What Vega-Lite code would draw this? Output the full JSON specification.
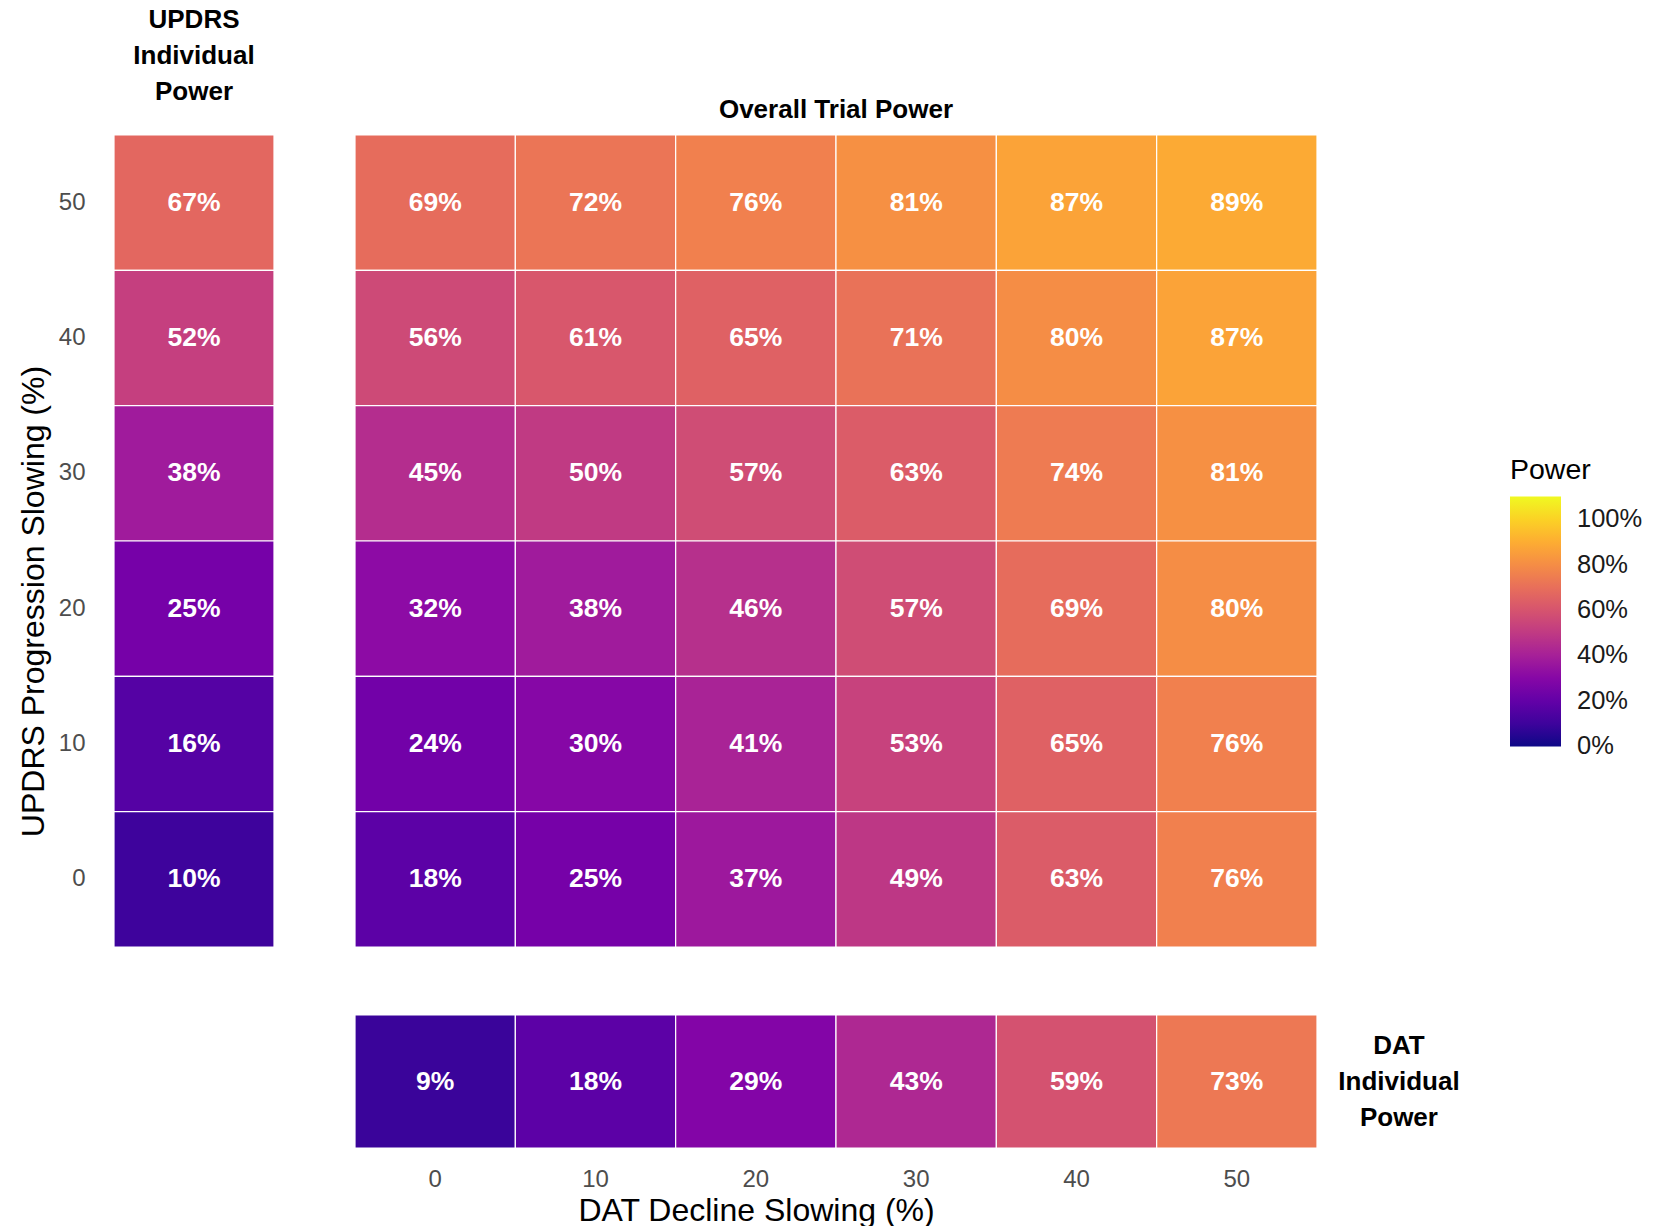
{
  "$schema": "https://vega.github.io/schema/vega-lite/v6.json",
  "background": "white",
  "autosize": {"type": "pad"},
  "padding": {"left": 17, "top": 7, "right": 0, "bottom": 0},
  "config": {
    "font": "Liberation Sans",
    "view": {"stroke": null},
    "axis": {"domain": false, "ticks": false, "grid": false},
    "title": {"font": "Liberation Sans", "fontSize": 26, "fontWeight": "bold", "color": "#000000"},
    "legend": {
      "orient": "none", "legendX": 1396, "legendY": 321, "padding": 0,
      "direction": "vertical", "gradientLength": 250, "gradientThickness": 51, "gradientStrokeWidth": 0,
      "labelFontSize": 25.5, "labelColor": "#1a1a1a", "labelOffset": 16, "gradientLabelOffset": 16, "labelFont": "Liberation Sans", "labelBaseline": "middle",
      "titleFontSize": 28.5, "titleFontWeight": "normal", "titleColor": "#000000", "titlePadding": 12, "titleFont": "Liberation Sans"
    }
  },
  "datasets": {
    "overall": [
      {"updrs": 50, "dat": 0, "power": 0.69}, {"updrs": 50, "dat": 10, "power": 0.72}, {"updrs": 50, "dat": 20, "power": 0.76},
      {"updrs": 50, "dat": 30, "power": 0.81}, {"updrs": 50, "dat": 40, "power": 0.87}, {"updrs": 50, "dat": 50, "power": 0.89},
      {"updrs": 40, "dat": 0, "power": 0.56}, {"updrs": 40, "dat": 10, "power": 0.61}, {"updrs": 40, "dat": 20, "power": 0.65},
      {"updrs": 40, "dat": 30, "power": 0.71}, {"updrs": 40, "dat": 40, "power": 0.80}, {"updrs": 40, "dat": 50, "power": 0.87},
      {"updrs": 30, "dat": 0, "power": 0.45}, {"updrs": 30, "dat": 10, "power": 0.50}, {"updrs": 30, "dat": 20, "power": 0.57},
      {"updrs": 30, "dat": 30, "power": 0.63}, {"updrs": 30, "dat": 40, "power": 0.74}, {"updrs": 30, "dat": 50, "power": 0.81},
      {"updrs": 20, "dat": 0, "power": 0.32}, {"updrs": 20, "dat": 10, "power": 0.38}, {"updrs": 20, "dat": 20, "power": 0.46},
      {"updrs": 20, "dat": 30, "power": 0.57}, {"updrs": 20, "dat": 40, "power": 0.69}, {"updrs": 20, "dat": 50, "power": 0.80},
      {"updrs": 10, "dat": 0, "power": 0.24}, {"updrs": 10, "dat": 10, "power": 0.30}, {"updrs": 10, "dat": 20, "power": 0.41},
      {"updrs": 10, "dat": 30, "power": 0.53}, {"updrs": 10, "dat": 40, "power": 0.65}, {"updrs": 10, "dat": 50, "power": 0.76},
      {"updrs": 0, "dat": 0, "power": 0.18}, {"updrs": 0, "dat": 10, "power": 0.25}, {"updrs": 0, "dat": 20, "power": 0.37},
      {"updrs": 0, "dat": 30, "power": 0.49}, {"updrs": 0, "dat": 40, "power": 0.63}, {"updrs": 0, "dat": 50, "power": 0.76}
    ],
    "updrsInd": [
      {"updrs": 50, "power": 0.67}, {"updrs": 40, "power": 0.52}, {"updrs": 30, "power": 0.38},
      {"updrs": 20, "power": 0.25}, {"updrs": 10, "power": 0.16}, {"updrs": 0, "power": 0.10}
    ],
    "datInd": [
      {"dat": 0, "power": 0.09}, {"dat": 10, "power": 0.18}, {"dat": 20, "power": 0.29},
      {"dat": 30, "power": 0.43}, {"dat": 40, "power": 0.59}, {"dat": 50, "power": 0.73}
    ]
  },
  "bounds": "flush",
  "spacing": 81,
  "hconcat": [
    {
      "data": {"name": "updrsInd"},
      "width": 160,
      "height": 812,
      "title": {"text": ["UPDRS", "Individual", "Power"], "anchor": "middle", "lineHeight": 36, "offset": 29},
      "encoding": {
        "y": {
          "field": "updrs", "type": "ordinal", "sort": "descending",
          "scale": {"paddingInner": 0, "paddingOuter": 0},
          "axis": {
            "orient": "left", "labelFontSize": 24, "labelColor": "#4d4d4d", "labelPadding": 29, "labelAngle": 0,
            "title": "UPDRS Progression Slowing (%)", "titleFontSize": 32, "titleFontWeight": "normal", "titleColor": "#000000",
            "titleX": -71, "titleY": 466, "titleBaseline": "alphabetic", "titleAngle": -90, "titleAlign": "center"
          }
        }
      },
      "layer": [
        {
          "mark": {"type": "rect", "stroke": "white", "strokeWidth": 1.2},
          "encoding": {
            "color": {"field": "power", "type": "quantitative", "title": "Power", "scale": {"scheme": "plasma", "domain": [-0.001, 1.1]},
              "legend": {"values": [0, 0.2, 0.4, 0.6, 0.8, 1.0], "format": ".0%", "labelOffset": 16}}
          }
        },
        {
          "mark": {"type": "text", "color": "white", "fontSize": 26.5, "fontWeight": "bold", "font": "Liberation Sans"},
          "encoding": {"text": {"field": "power", "type": "quantitative", "format": ".0%"}}
        }
      ]
    },
    {
      "bounds": "flush",
      "spacing": 68,
      "vconcat": [
        {
          "data": {"name": "overall"},
          "width": 962,
          "height": 812,
          "title": {"text": "Overall Trial Power", "anchor": "middle", "offset": 11},
          "encoding": {
            "x": {"field": "dat", "type": "ordinal", "scale": {"paddingInner": 0, "paddingOuter": 0}, "axis": null},
            "y": {"field": "updrs", "type": "ordinal", "sort": "descending", "scale": {"paddingInner": 0, "paddingOuter": 0}, "axis": null}
          },
          "layer": [
            {
              "mark": {"type": "rect", "stroke": "white", "strokeWidth": 1.2},
              "encoding": {
                "color": {"field": "power", "type": "quantitative", "title": "Power", "scale": {"scheme": "plasma", "domain": [-0.001, 1.1]},
                  "legend": {"values": [0, 0.2, 0.4, 0.6, 0.8, 1.0], "format": ".0%", "labelOffset": 16}}
              }
            },
            {
              "mark": {"type": "text", "color": "white", "fontSize": 26.5, "fontWeight": "bold", "font": "Liberation Sans"},
              "encoding": {"text": {"field": "power", "type": "quantitative", "format": ".0%"}}
            }
          ]
        },
        {
          "data": {"name": "datInd"},
          "width": 962,
          "height": 133,
          "title": {"text": ["DAT", "Individual", "Power"], "orient": "right", "angle": 0, "anchor": "middle", "align": "center", "baseline": "middle", "lineHeight": 36, "offset": -40, "dy": -36},
          "encoding": {
            "x": {
              "field": "dat", "type": "ordinal", "scale": {"paddingInner": 0, "paddingOuter": 0},
              "axis": {
                "orient": "bottom", "labelFontSize": 24, "labelColor": "#4d4d4d", "labelPadding": 19, "labelAngle": 0,
                "title": "DAT Decline Slowing (%)", "titleFontSize": 32, "titleFontWeight": "normal", "titleColor": "#000000",
                "titleX": 401, "titleY": 72, "titleBaseline": "alphabetic", "titleAlign": "center"
              }
            }
          },
          "layer": [
            {
              "mark": {"type": "rect", "stroke": "white", "strokeWidth": 1.2},
              "encoding": {
                "color": {"field": "power", "type": "quantitative", "title": "Power", "scale": {"scheme": "plasma", "domain": [-0.001, 1.1]},
                  "legend": {"values": [0, 0.2, 0.4, 0.6, 0.8, 1.0], "format": ".0%", "labelOffset": 16}}
              }
            },
            {
              "mark": {"type": "text", "color": "white", "fontSize": 26.5, "fontWeight": "bold", "font": "Liberation Sans"},
              "encoding": {"text": {"field": "power", "type": "quantitative", "format": ".0%"}}
            }
          ]
        }
      ]
    }
  ]
}
